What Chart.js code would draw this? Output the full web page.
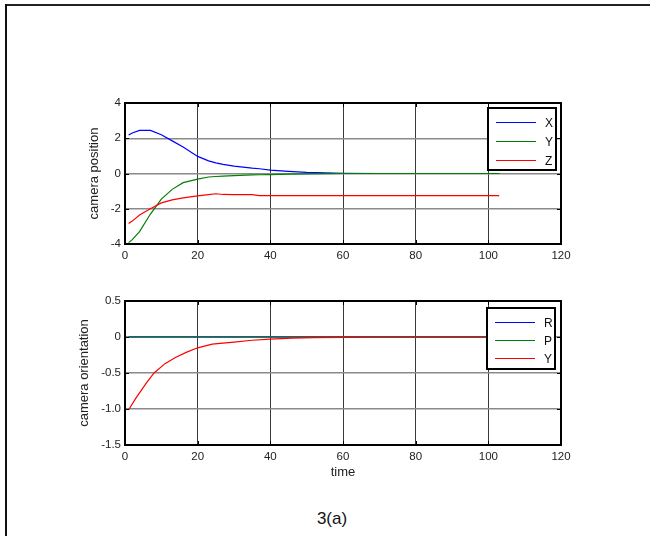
<!DOCTYPE html>
<html>
<head>
<meta charset="utf-8">
<script src="https://cdn.jsdelivr.net/npm/chart.js@4.4.1/dist/chart.umd.min.js"></script>
<style>
  html, body { margin:0; padding:0; background:#fff; width:650px; height:536px; overflow:hidden; position:relative; }
  #ftop { position:absolute; left:5px; top:4px; width:645px; height:2px; background:#222; }
  #fleft { position:absolute; left:5px; top:4px; width:2px; height:532px; background:#111; }
  .box { position:absolute; left:0; width:650px; }
  #caption { position:absolute; left:232px; width:200px; top:509px; text-align:center; font-family:"Liberation Sans", Arial, sans-serif; font-size:17px; color:#111; }
</style>
</head>
<body>
<div id="ftop"></div>
<div id="fleft"></div>
<div class="box" style="top:90px;height:185px;"><canvas id="c1"></canvas></div>
<div class="box" style="top:290px;height:200px;"><canvas id="c2"></canvas></div>
<div id="caption">3(a)</div>
<script>
// ---- data ----
const posTime = [1, 2, 4, 7, 10, 13, 16, 20, 23, 25, 27, 30, 35, 37, 40, 45, 50, 55, 60, 70, 80, 90, 103];
const posX = [2.18, 2.3, 2.45, 2.45, 2.2, 1.85, 1.5, 0.97, 0.72, 0.6, 0.52, 0.42, 0.3, 0.27, 0.19, 0.12, 0.06, 0.03, 0.01, 0, 0, 0, 0];
const posY = [-3.92, -3.75, -3.3, -2.3, -1.45, -0.9, -0.52, -0.32, -0.2, -0.17, -0.15, -0.12, -0.08, -0.07, -0.06, -0.04, -0.02, -0.01, 0, 0, 0, 0, 0];
const posZ = [-2.84, -2.7, -2.35, -2.0, -1.67, -1.5, -1.38, -1.27, -1.2, -1.15, -1.19, -1.2, -1.2, -1.25, -1.25, -1.25, -1.25, -1.25, -1.25, -1.25, -1.25, -1.25, -1.25];

const oriTime = [1, 3, 6, 8, 11, 14, 17, 20, 24, 30, 35, 40, 46, 52, 60, 70, 80, 90, 100];
const oriR = [0, 0, 0, 0, 0, 0, 0, 0, 0, 0, 0, 0, 0, 0, 0, 0, 0, 0, 0];
const oriP = [0, 0, 0, 0, 0, 0, 0, 0, 0, 0, 0, 0, 0, 0, 0, 0, 0, 0, 0];
const oriYaw = [-1.01, -0.85, -0.63, -0.5, -0.37, -0.28, -0.21, -0.15, -0.1, -0.07, -0.045, -0.03, -0.015, -0.01, -0.004, 0, 0, 0, 0];

const timeTicks = [0, 20, 40, 60, 80, 100, 120];
const posTicks = [-4, -2, 0, 2, 4];
const oriTicks = [-1.5, -1, -0.5, 0, 0.5];

const posLabels = ['X', 'Y', 'Z'];
const oriLabels = ['R', 'P', 'Y'];
const lineColors = ['#0000ff', '#008000', '#ff0000'];

// ---- helpers ----
const FONT = '"Liberation Sans", Arial, sans-serif';
function pts(t, v) { return t.map((x, i) => ({ x: x, y: v[i] })); }
function setTicks(arr) { return function (scale) { scale.ticks = arr.map(v => ({ value: v })); }; }

const framePlugin = {
  id: 'framePlugin',
  afterDatasetsDraw(chart, args, opts) {
    const { ctx, chartArea: a, scales } = chart;
    ctx.save();
    ctx.strokeStyle = '#000';
    ctx.lineWidth = 1;
    ctx.beginPath();
    scales.x.ticks.forEach(t => {
      const px = Math.round(scales.x.getPixelForValue(t.value)) + 0.5;
      ctx.moveTo(px, a.bottom); ctx.lineTo(px, a.bottom - 4);
      ctx.moveTo(px, a.top); ctx.lineTo(px, a.top + 4);
    });
    scales.y.ticks.forEach(t => {
      const py = Math.round(scales.y.getPixelForValue(t.value)) + 0.5;
      ctx.moveTo(a.left, py); ctx.lineTo(a.left + 4, py);
      ctx.moveTo(a.right, py); ctx.lineTo(a.right - 4, py);
    });
    ctx.stroke();
    ctx.lineWidth = 2;
    ctx.strokeRect(a.left, a.top, a.right - a.left, a.bottom - a.top);
    // legend box
    const L = opts;
    const bx = a.right - L.right - L.width, by = a.top + L.top;
    ctx.fillStyle = '#fff';
    ctx.fillRect(bx, by, L.width, L.height);
    ctx.lineWidth = 2;
    ctx.strokeStyle = '#000';
    ctx.strokeRect(bx, by, L.width, L.height);
    ctx.font = '12px ' + FONT;
    ctx.textBaseline = 'middle';
    ctx.textAlign = 'left';
    chart.data.datasets.forEach((ds, i) => {
      const y = Math.round(by + L.rowStart + i * L.rowGap) + 0.5;
      ctx.strokeStyle = ds.borderColor;
      ctx.lineWidth = 1;
      ctx.beginPath();
      ctx.moveTo(bx + 8, y); ctx.lineTo(bx + 48, y);
      ctx.stroke();
      ctx.fillStyle = '#111';
      ctx.fillText(ds.label, bx + 57, y + 1);
    });
    ctx.restore();
  }
};

function makeChart(id, time, series, labels, yTicks, yMin, yMax, yTitle, xTitle, lay, legend, yWidth, xHeight) {
  const datasets = series.map((s, i) => ({
    label: labels[i],
    data: pts(time, s),
    borderColor: lineColors[i],
    backgroundColor: lineColors[i],
    borderWidth: 1.2,
    pointRadius: 0,
    tension: 0,
    fill: false,
    order: 3 - i
  }));
  return new Chart(document.getElementById(id), {
    type: 'line',
    data: { datasets },
    plugins: [framePlugin],
    options: {
      responsive: true,
      maintainAspectRatio: false,
      animation: false,
      devicePixelRatio: 1,
      layout: { padding: lay },
      plugins: { legend: { display: false }, tooltip: { enabled: false }, framePlugin: legend },
      scales: {
        x: {
          type: 'linear', min: 0, max: 120,
          afterBuildTicks: setTicks(timeTicks),
          afterFit: s => { s.height = xHeight; },
          border: { display: false },
          grid: { color: '#3a3a3a', lineWidth: 1, drawTicks: false },
          ticks: { padding: 5, color: '#222', font: { family: FONT, size: 11.5 }, maxRotation: 0, autoSkip: false },
          title: xTitle ? { display: true, text: xTitle, color: '#222', font: { family: FONT, size: 13 }, padding: { top: 2, bottom: 9.5 } } : { display: false }
        },
        y: {
          type: 'linear', min: yMin, max: yMax,
          afterBuildTicks: setTicks(yTicks),
          afterFit: s => { s.width = yWidth; },
          border: { display: false },
          grid: { color: '#8a8a8a', lineWidth: 1.5, drawTicks: false },
          ticks: { padding: 4, color: '#222', font: { family: FONT, size: 11.5 } },
          title: { display: true, text: yTitle, color: '#222', font: { family: FONT, size: 13 }, padding: { top: 4, bottom: 4 } }
        }
      }
    }
  });
}

makeChart('c1', posTime, [posX, posY, posZ], posLabels, posTicks, -4, 4, 'camera position', null,
  { left: 83, top: 13, right: 89, bottom: 0 },
  { right: 5, top: 5, width: 68, height: 62, rowStart: 13.7, rowGap: 19 }, 42, 31);

makeChart('c2', oriTime, [oriR, oriP, oriYaw], oriLabels, oriTicks, -1.5, 0.5, 'camera orientation', 'time',
  { left: 73, top: 11, right: 89, bottom: 0 },
  { right: 6, top: 7, width: 68, height: 61, rowStart: 13.7, rowGap: 18.3 }, 52, 45);
</script>
</body>
</html>
